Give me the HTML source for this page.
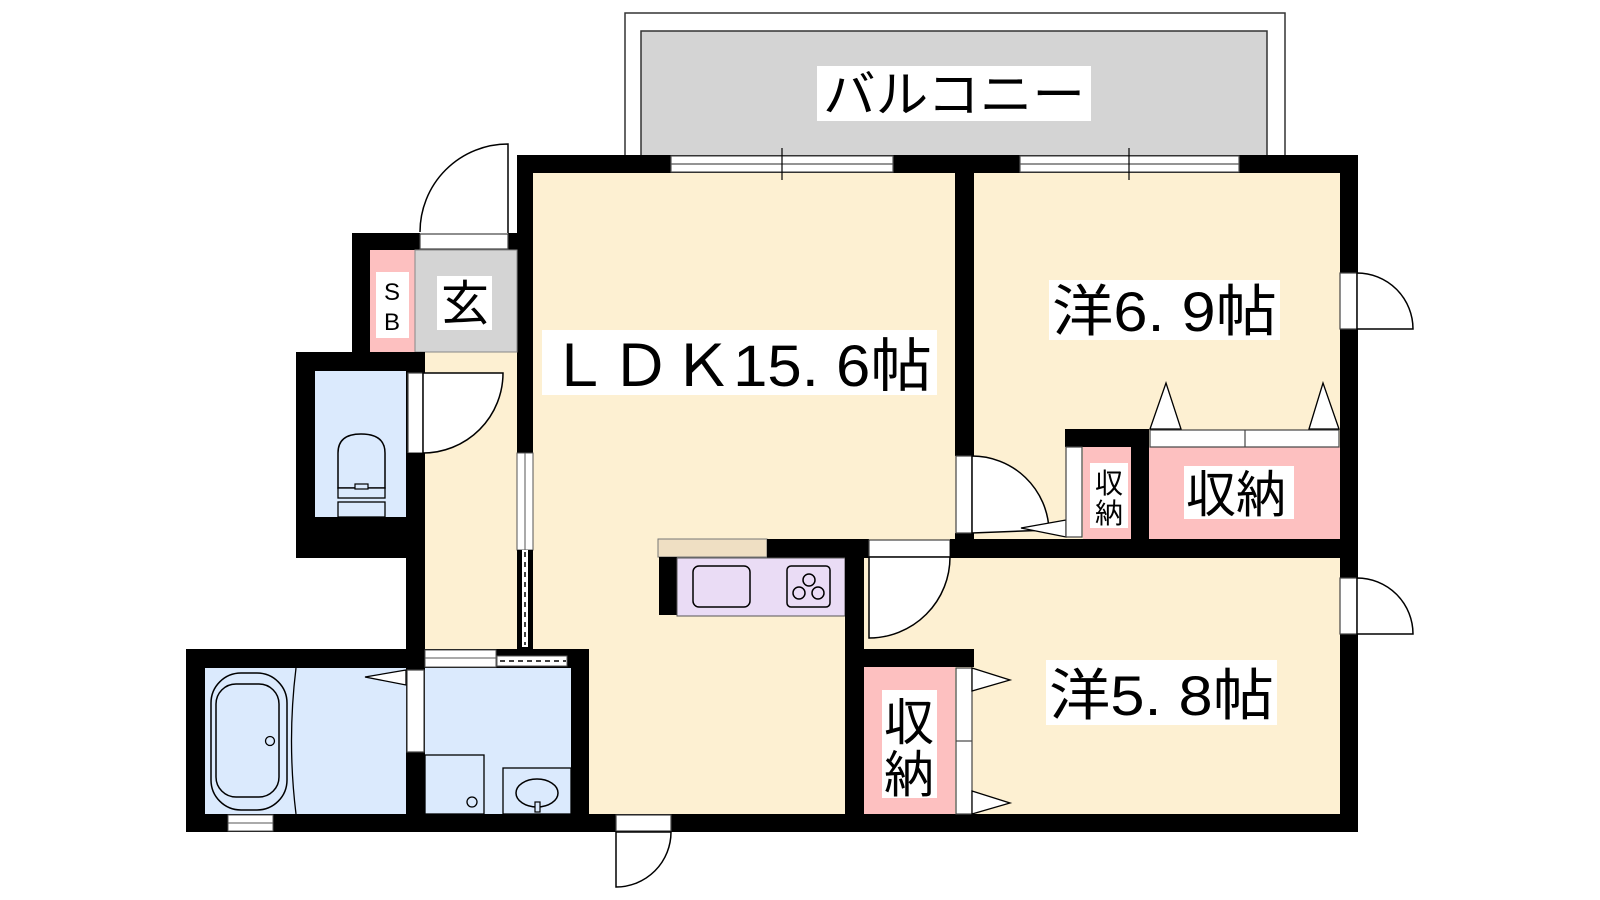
<!DOCTYPE html>
<html><head><meta charset="utf-8"><style>
html,body{margin:0;padding:0;background:#fff;}
svg{display:block;}
text{font-family:"Liberation Sans","Noto Sans CJK JP",sans-serif;fill:#000;}
</style></head><body>
<svg width="1600" height="900" viewBox="0 0 1600 900" xmlns="http://www.w3.org/2000/svg">
<!-- balcony -->
<rect x="625" y="13" width="660" height="150" fill="#fff" stroke="#333" stroke-width="1.5"/>
<rect x="641" y="31" width="626" height="130" fill="#d4d4d4" stroke="#333" stroke-width="1.5"/>
<rect x="817" y="66" width="274" height="55" fill="#fff"/>
<text x="823" y="112" font-size="50" textLength="262" lengthAdjust="spacingAndGlyphs">バルコニー</text>

<!-- floors -->
<rect x="533" y="173" width="807" height="641" fill="#fdf0d2"/>
<rect x="425" y="352" width="92" height="297" fill="#fdf0d2"/>
<!-- top wall -->
<rect x="517" y="155" width="841" height="18" fill="#000"/>
<!-- windows -->
<g fill="#fff" stroke="#555" stroke-width="1.2">
<rect x="671" y="156" width="222" height="16"/><line x1="671" y1="164" x2="893" y2="164"/>
<rect x="1020" y="156" width="219" height="16"/><line x1="1020" y1="164" x2="1239" y2="164"/>
</g>
<line x1="782" y1="148" x2="782" y2="180" stroke="#000" stroke-width="1.2"/>
<line x1="1129" y1="148" x2="1129" y2="180" stroke="#000" stroke-width="1.2"/>
<!-- right wall -->
<rect x="1340" y="155" width="18" height="677" fill="#000"/>
<!-- bottom wall -->
<rect x="186" y="814" width="1172" height="18" fill="#000"/>

<!-- LDK left wall -->
<rect x="517" y="155" width="16" height="298" fill="#000"/>
<rect x="517" y="453" width="16" height="97" fill="#fff" stroke="#555" stroke-width="1"/>
<line x1="525" y1="453" x2="525" y2="550" stroke="#555" stroke-width="1"/>
<rect x="517" y="550" width="16" height="99" fill="#000"/>
<rect x="522" y="550" width="6" height="97" fill="#fff"/>
<line x1="525" y1="552" x2="525" y2="645" stroke="#000" stroke-width="1.5" stroke-dasharray="5,5"/>

<!-- entrance -->
<rect x="352" y="233" width="68" height="119" fill="#000"/>
<rect x="508" y="233" width="9" height="17" fill="#000"/>
<rect x="370" y="250" width="45" height="102" fill="#fdc0c0"/>
<rect x="415" y="250" width="102" height="102" fill="#d4d4d4" stroke="#888" stroke-width="1"/>
<rect x="420" y="234" width="88" height="15" fill="#fff" stroke="#444" stroke-width="1.2"/>
<path d="M508,233 L508,144 A88,88 0 0 0 420,232" fill="#fff" stroke="#000" stroke-width="1.5"/>
<rect x="376" y="272" width="33" height="66" fill="#fff"/>
<text x="392" y="300" font-size="24" text-anchor="middle">S</text>
<text x="392" y="330" font-size="24" text-anchor="middle">B</text>
<rect x="437" y="276" width="55" height="54" fill="#fff"/>
<text x="441" y="320" font-size="48">玄</text>

<!-- toilet -->
<rect x="296" y="352" width="129" height="206" fill="#000"/>
<rect x="315" y="371" width="91" height="146" fill="#dbeafd"/>
<rect x="408" y="373" width="15" height="80" fill="#fff" stroke="#444" stroke-width="1.2"/>
<path d="M423,373 L503,373 A80,80 0 0 1 423,453 Z" fill="#fff" stroke="#000" stroke-width="1.5"/>
<rect x="406" y="453" width="19" height="196" fill="#000"/>
<path d="M338,488 L338,453 Q338,434 361,434 Q385,434 385,453 L385,488 Z" fill="#dbeafd" stroke="#000" stroke-width="1.5"/>
<rect x="338" y="488" width="47" height="10" fill="#dbeafd" stroke="#000" stroke-width="1.3"/>
<rect x="355" y="484" width="13" height="5" fill="#dbeafd" stroke="#000" stroke-width="1.2"/>
<rect x="338" y="502" width="47" height="15" fill="#dbeafd" stroke="#000" stroke-width="1.3"/>

<!-- bath / wash -->
<rect x="186" y="649" width="403" height="183" fill="#000"/>
<rect x="205" y="668" width="201" height="146" fill="#dbeafd"/>
<rect x="425" y="668" width="146" height="146" fill="#dbeafd"/>
<rect x="425" y="650" width="71" height="17" fill="#fff" stroke="#555" stroke-width="1"/>
<line x1="425" y1="658" x2="496" y2="658" stroke="#555" stroke-width="1"/>
<rect x="497" y="656" width="70" height="10" fill="#fff" stroke="#555" stroke-width="1"/>
<line x1="500" y1="661" x2="566" y2="661" stroke="#000" stroke-width="1.5" stroke-dasharray="5,4"/>
<rect x="228" y="815" width="45" height="16" fill="#fff" stroke="#555" stroke-width="1"/>
<line x1="228" y1="823" x2="273" y2="823" stroke="#555" stroke-width="1"/>
<rect x="211" y="673" width="76" height="137" rx="30" fill="none" stroke="#000" stroke-width="1.5"/>
<rect x="216" y="684" width="63" height="113" rx="20" fill="none" stroke="#000" stroke-width="1.5"/>
<circle cx="270" cy="741" r="4.5" fill="none" stroke="#000" stroke-width="1.3"/>
<path d="M296,668 Q287,741 296,814" fill="none" stroke="#000" stroke-width="1.3"/>
<rect x="407" y="670" width="17" height="82" fill="#fff" stroke="#444" stroke-width="1.2"/>
<path d="M406,670 L365,677 L406,685 Z" fill="#fff" stroke="#000" stroke-width="1.3"/>
<rect x="425" y="755" width="59" height="59" fill="#dbeafd" stroke="#000" stroke-width="1.3"/>
<circle cx="472" cy="802" r="5" fill="none" stroke="#000" stroke-width="1.3"/>
<rect x="503" y="768" width="68" height="46" fill="#dbeafd" stroke="#000" stroke-width="1.3"/>
<ellipse cx="537" cy="793" rx="21" ry="14" fill="none" stroke="#000" stroke-width="1.5"/>
<rect x="535" y="802" width="5" height="10" fill="#dbeafd" stroke="#000" stroke-width="1.2"/>

<!-- bottom door -->
<rect x="616" y="815" width="55" height="16" fill="#fff" stroke="#444" stroke-width="1.2"/>
<path d="M616,832 L671,832 A55,55 0 0 1 616,887 Z" fill="#fff" stroke="#000" stroke-width="1.5"/>

<!-- kitchen -->
<rect x="658" y="539" width="109" height="18" fill="#efdfc3" stroke="#777" stroke-width="1"/>
<rect x="767" y="539" width="97" height="19" fill="#000"/>
<rect x="659" y="557" width="18" height="58" fill="#000"/>
<rect x="677" y="558" width="168" height="58" fill="#eadcf5" stroke="#555" stroke-width="1"/>
<rect x="693" y="566" width="57" height="41" rx="6" fill="none" stroke="#000" stroke-width="1.5"/>
<rect x="787" y="566" width="43" height="41" rx="4" fill="none" stroke="#000" stroke-width="1.5"/>
<circle cx="809" cy="580" r="6" fill="none" stroke="#000" stroke-width="1.5"/>
<circle cx="799" cy="593" r="6" fill="none" stroke="#000" stroke-width="1.5"/>
<circle cx="818" cy="593" r="6" fill="none" stroke="#000" stroke-width="1.5"/>

<!-- interior walls -->
<rect x="955" y="155" width="19" height="301" fill="#000"/>
<rect x="955" y="533" width="19" height="8" fill="#000"/>
<rect x="956" y="456" width="16" height="77" fill="#fff" stroke="#444" stroke-width="1.2"/>
<path d="M972,456 A77,77 0 0 1 1049,530 L972,533 Z" fill="#fff" stroke="#000" stroke-width="1.5"/>
<path d="M1066,520 L1021,528 L1066,537 Z" fill="#fff" stroke="#000" stroke-width="1.3"/>
<rect x="845" y="539" width="24" height="19" fill="#000"/>
<rect x="869" y="540" width="81" height="17" fill="#fff" stroke="#444" stroke-width="1.2"/>
<rect x="950" y="539" width="408" height="19" fill="#000"/>
<rect x="845" y="539" width="19" height="293" fill="#000"/>
<path d="M869,557 L950,557 A81,81 0 0 1 869,638 Z" fill="#fff" stroke="#000" stroke-width="1.5"/>

<!-- 6.9 closets -->
<rect x="1065" y="429" width="84" height="18" fill="#000"/>
<rect x="1131" y="429" width="18" height="110" fill="#000"/>
<rect x="1066" y="447" width="16" height="90" fill="#fff" stroke="#444" stroke-width="1.2"/>
<rect x="1083" y="447" width="48" height="92" fill="#fdc0c0"/>
<rect x="1149" y="447" width="191" height="92" fill="#fdc0c0"/>
<rect x="1150" y="430" width="189" height="17" fill="#fff" stroke="#444" stroke-width="1.2"/>
<line x1="1245" y1="430" x2="1245" y2="447" stroke="#444" stroke-width="1.2"/>
<path d="M1150,429 L1166,383 L1181,429 Z" fill="#fff" stroke="#000" stroke-width="1.3"/>
<path d="M1309,429 L1323,383 L1339,429 Z" fill="#fff" stroke="#000" stroke-width="1.3"/>
<rect x="1090" y="463" width="38" height="65" fill="#fff"/>
<text x="1109" y="493" font-size="28" text-anchor="middle">収</text>
<text x="1109" y="523" font-size="28" text-anchor="middle">納</text>
<rect x="1184" y="466" width="110" height="53" fill="#fff"/>
<text x="1186" y="512" font-size="50">収納</text>

<!-- 5.8 closet -->
<rect x="864" y="649" width="110" height="18" fill="#000"/>
<rect x="864" y="667" width="91" height="147" fill="#fdc0c0"/>
<rect x="956" y="668" width="16" height="146" fill="#fff" stroke="#444" stroke-width="1.2"/>
<line x1="956" y1="741" x2="972" y2="741" stroke="#444" stroke-width="1.2"/>
<path d="M972,668 L1010,680 L972,691 Z" fill="#fff" stroke="#000" stroke-width="1.3"/>
<path d="M972,791 L1010,803 L972,814 Z" fill="#fff" stroke="#000" stroke-width="1.3"/>
<rect x="882" y="690" width="55" height="108" fill="#fff"/>
<text x="909" y="740" font-size="50" text-anchor="middle">収</text>
<text x="909" y="792" font-size="50" text-anchor="middle">納</text>

<!-- right doors -->
<rect x="1340" y="273" width="17" height="56" fill="#fff" stroke="#444" stroke-width="1.2"/>
<path d="M1357,273 A56,56 0 0 1 1413,329 L1357,329 Z" fill="#fff" stroke="#000" stroke-width="1.5"/>
<rect x="1340" y="578" width="17" height="56" fill="#fff" stroke="#444" stroke-width="1.2"/>
<path d="M1357,578 A56,56 0 0 1 1413,634 L1357,634 Z" fill="#fff" stroke="#000" stroke-width="1.5"/>

<!-- room labels -->
<rect x="542" y="330" width="395" height="65" fill="#fff"/>
<text x="548" y="386" font-size="58" textLength="384" lengthAdjust="spacingAndGlyphs">ＬＤＫ15. 6帖</text>
<rect x="1049" y="280" width="231" height="60" fill="#fff"/>
<text x="1052" y="331" font-size="56" textLength="225" lengthAdjust="spacingAndGlyphs">洋6. 9帖</text>
<rect x="1046" y="660" width="231" height="65" fill="#fff"/>
<text x="1049" y="715" font-size="56" textLength="225" lengthAdjust="spacingAndGlyphs">洋5. 8帖</text>
</svg>
</body></html>
